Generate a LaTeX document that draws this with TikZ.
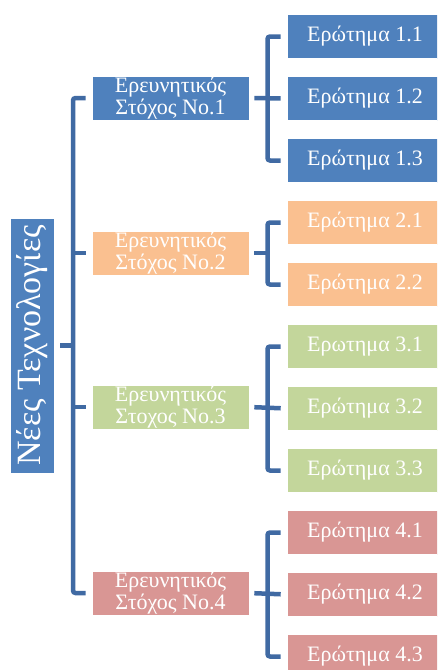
\documentclass[tikz,border=0pt]{standalone}
\usepackage{fontspec}
\setmainfont{Liberation Serif}
\usetikzlibrary{positioning,calc}
\definecolor{accblue}{HTML}{4F81BD}
\definecolor{accorange}{HTML}{FAC090}
\definecolor{accgreen}{HTML}{C3D69B}
\definecolor{accred}{HTML}{D99694}
\definecolor{linkblue}{RGB}{64,106,163}
\tikzset{
  box/.style={draw=white, line width=0.6pt, text=white, inner sep=0pt, align=center},
  root/.style={box, fill=accblue, rotate=90, minimum width=255pt, minimum height=44pt,
    font=\fontsize{34}{36}\selectfont},
  goal/.style={box, minimum width=157pt, minimum height=44pt,
    font=\fontsize{22}{21.5}\selectfont},
  quest/.style={box, minimum width=156pt, minimum height=44pt,
    font=\fontsize{22}{24}\selectfont},
  link/.style={draw=linkblue, line width=4.5pt, rounded corners=2.5pt},
}

\begin{document}
\begin{tikzpicture}[x=1pt, y=-1pt]
      \useasboundingbox (0,0) rectangle (437,670);
      \clip (0,0) rectangle (437,670);
      \node[root] (root) at (32,345.5) {Νέες Τεχνολογίες};
      % goals
      \node[goal, fill=accblue]   (g1) at (170.5,98)  {Ερευνητικός\\Στόχος No.1};
      \node[goal, fill=accorange] (g2) at (170.5,253) {Ερευνητικός\\Στόχος No.2};
      \node[goal, fill=accgreen]  (g3) at (170.5,407) {Ερευνητικός\\Στοχος No.3};
      \node[goal, fill=accred]    (g4) at (170.5,593) {Ερευνητικός\\Στόχος No.4};
      % questions
      \node[quest, fill=accblue]   (q11) at (365,36.5)  {Ερώτημα 1.1};
      \node[quest, fill=accblue]   (q12) at (365,98.5)  {Ερώτημα 1.2};
      \node[quest, fill=accblue]   (q13) at (365,160.5) {Ερώτημα 1.3};
      \node[quest, fill=accorange] (q21) at (365,222.5) {Ερώτημα 2.1};
      \node[quest, fill=accorange] (q22) at (365,284.5) {Ερώτημα 2.2};
      \node[quest, fill=accgreen]  (q31) at (365,346.5) {Ερωτημα 3.1};
      \node[quest, fill=accgreen]  (q32) at (365,408.5) {Ερώτημα 3.2};
      \node[quest, fill=accgreen]  (q33) at (365,470.5) {Ερώτημα 3.3};
      \node[quest, fill=accred]    (q41) at (365,532.5) {Ερώτημα 4.1};
      \node[quest, fill=accred]    (q42) at (365,594.5) {Ερώτημα 4.2};
      \node[quest, fill=accred]    (q43) at (365,656.5) {Ερώτημα 4.3};
      \coordinate (trunk) at (73,345.5);
      \coordinate (b1) at (267.5,98);
      \coordinate (b2) at (267.5,253);
      \coordinate (b3) at (267.5,407);
      \coordinate (b4) at (267.5,593);
      % root to goals
      \draw[link, shorten <=6pt] (root.south) -- (trunk);
      \draw[link, shorten <=6pt, shorten >=6pt] (g1.west) -| (trunk) |- (g4.west);
      \draw[link, shorten >=6pt] (trunk |- g2.west) -- (g2.west);
      \draw[link, shorten >=6pt] (trunk |- g3.west) -- (g3.west);
      % goals to questions
      \draw[link, shorten <=6pt, shorten >=6pt] (q11.west) -| (b1) |- (q13.west);
      \draw[link, shorten <=5pt, shorten >=6pt] (g1.east) -- (q12.west);
      \draw[link, shorten <=6pt, shorten >=6pt] (q21.west) -| (b2) |- (q22.west);
      \draw[link, shorten <=5pt] (g2.east) -- (b2);
      \draw[link, shorten <=6pt, shorten >=6pt] (q31.west) -| (b3) |- (q33.west);
      \draw[link, shorten <=5pt, shorten >=6pt] (g3.east) -- (q32.west);
      \draw[link, shorten <=6pt, shorten >=6pt] (q41.west) -| (b4) |- (q43.west);
      \draw[link, shorten <=5pt, shorten >=6pt] (g4.east) -- (q42.west);
\end{tikzpicture}
\end{document}
